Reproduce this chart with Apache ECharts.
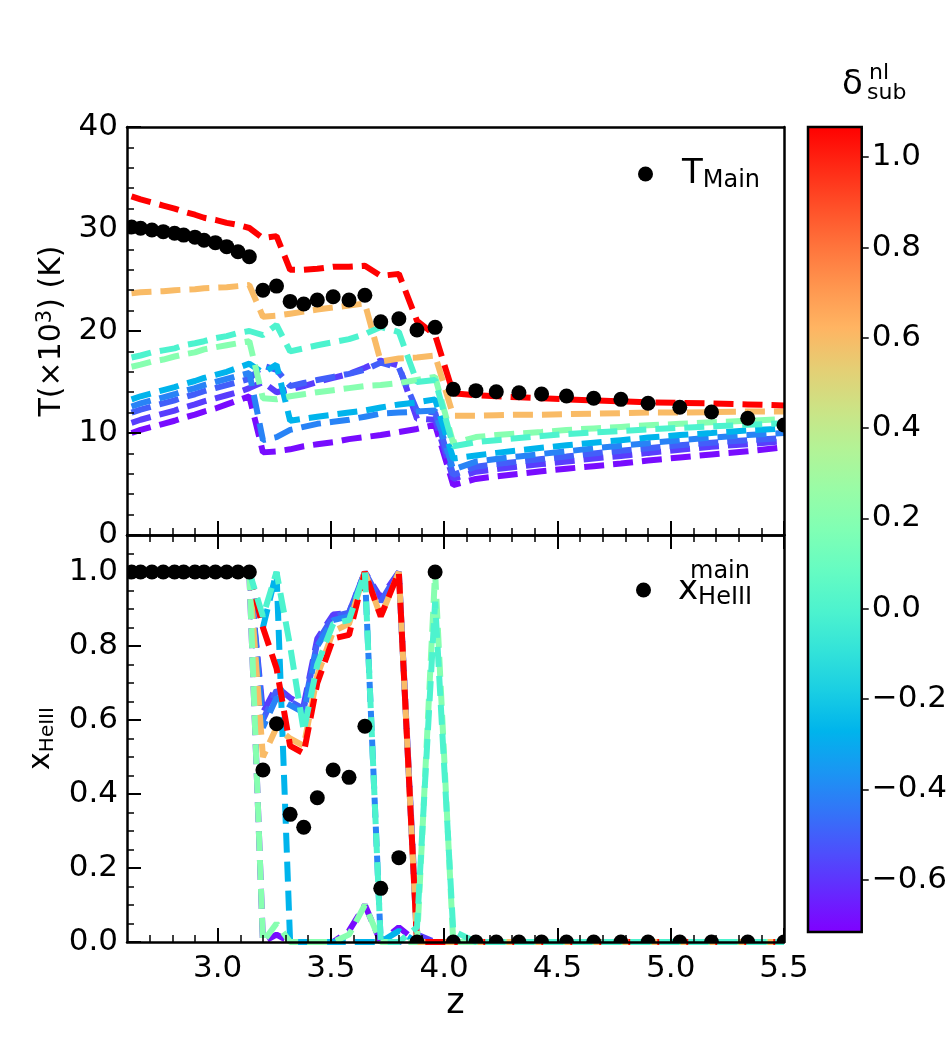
<!DOCTYPE html>
<html><head><meta charset="utf-8">
<script src="https://cdn.jsdelivr.net/npm/echarts@6/dist/echarts.min.js"></script>
<style>html,body{margin:0;padding:0;background:#fff}#c{width:950px;height:1060px}</style>
</head><body><div id="c"></div>
<script>
// ---- data ----
const z = [2.62,2.66,2.71,2.76,2.81,2.85,2.90,2.94,2.99,3.04,3.09,3.14,3.20,3.26,3.32,3.38,3.44,3.51,3.58,3.65,3.72,3.80,3.88,3.96,4.04,4.14,4.23,4.33,4.43,4.54,4.66,4.78,4.90,5.04,5.18,5.34,5.50];
const tMain = [30.2,30.07,29.9,29.74,29.58,29.4,29.2,28.9,28.66,28.27,27.77,27.28,24.0,24.4,22.9,22.65,23.04,23.36,23.04,23.5,20.9,21.2,20.1,20.36,14.28,14.15,14.05,13.95,13.82,13.63,13.4,13.3,12.91,12.52,12.06,11.44,10.78];
const xMain = [1,1,1,1,1,1,1,1,1,1,1,1,0.465,0.59,0.345,0.31,0.39,0.465,0.445,0.583,0.145,0.228,0.0,1.0,0,0,0,0,0,0,0,0,0,0,0,0,0];

const deltas = [1.07, 0.60, 0.20, 0.00, -0.27, -0.41, -0.50, -0.58, -0.69];

const tempRed = [33.2,32.9,32.6,32.3,32.0,31.7,31.4,31.1,30.9,30.6,30.4,30.1,29.1,29.3,26.0,26.0,26.1,26.3,26.3,26.4,25.4,25.6,21.0,19.6,13.9,13.7,13.6,13.5,13.4,13.3,13.2,13.1,13.0,12.95,12.9,12.8,12.7];
const tempOrange = [23.7,23.8,23.85,23.9,24.0,24.05,24.1,24.2,24.25,24.3,24.4,24.5,21.4,21.5,21.7,21.9,22.1,22.3,22.5,22.7,17.0,17.3,17.4,17.6,11.7,11.7,11.75,11.8,11.8,11.85,11.9,11.95,12.0,12.0,12.05,12.1,12.1];
const tempLightGreen = [16.5,16.7,17.0,17.2,17.5,17.7,17.9,18.2,18.4,18.6,18.8,19.0,13.4,13.3,13.6,13.8,14.0,14.2,14.4,14.6,14.7,14.9,15.2,15.5,9.0,9.6,9.8,9.95,10.1,10.3,10.45,10.6,10.75,10.9,11.05,11.2,11.35];
const tempAqua = [17.4,17.6,17.9,18.1,18.3,18.6,18.8,19.0,19.3,19.5,19.8,20.0,19.6,20.6,18.0,18.3,18.6,18.9,19.2,19.7,20.4,19.9,15.0,15.2,8.7,9.1,9.3,9.5,9.7,9.9,10.05,10.2,10.35,10.5,10.65,10.8,10.95];
const tempCyan = [13.3,13.6,13.9,14.2,14.5,14.8,15.1,15.4,15.7,16.0,16.4,16.8,15.9,16.7,11.2,11.4,11.6,11.8,12.0,12.2,12.5,12.8,13.0,13.3,7.5,7.8,8.05,8.3,8.55,8.8,9.05,9.3,9.55,9.8,10.0,10.25,10.45];
const tempBlue = [12.6,12.9,13.2,13.5,13.8,14.1,14.4,14.7,15.0,15.3,15.6,15.9,9.3,9.6,10.3,10.6,10.9,11.1,11.3,11.6,11.9,12.0,12.1,12.2,6.4,7.2,7.45,7.7,7.95,8.2,8.5,8.75,9.0,9.3,9.55,9.8,10.0];
const tempBlue2 = [12.0,12.3,12.6,12.9,13.2,13.5,13.8,14.1,14.4,14.7,15.0,15.3,16.6,16.2,14.6,14.9,15.2,15.5,15.8,16.2,16.9,16.4,12.2,12.0,5.9,6.7,6.95,7.2,7.45,7.7,8.0,8.25,8.5,8.8,9.05,9.3,9.5];
const tempIndigo = [11.0,11.3,11.6,11.9,12.2,12.5,12.8,13.1,13.4,13.7,14.0,14.4,15.0,14.0,14.3,14.6,15.0,15.4,15.8,16.4,17.1,16.6,11.4,11.3,5.5,6.2,6.45,6.7,6.95,7.2,7.5,7.75,8.05,8.35,8.65,8.9,9.2];
const tempPurple = [10.0,10.3,10.6,10.9,11.2,11.5,11.8,12.1,12.4,12.8,13.2,13.6,8.1,8.2,8.4,8.7,8.9,9.1,9.4,9.6,9.8,10.1,10.4,10.8,4.9,5.5,5.75,6.0,6.25,6.5,6.75,7.0,7.3,7.6,7.9,8.2,8.6];

const xRed = [1,1,1,1,1,1,1,1,1,1,1,1.0,0.85,0.74,0.53,0.51,0.70,0.82,0.83,1.0,0.88,1.0,0.0,0.0,0.0,0,0,0,0,0,0,0,0,0,0,0,0];
const xOrange = [1,1,1,1,1,1,1,1,1,1,1,1.0,0.50,0.58,0.55,0.53,0.72,0.84,0.86,1.0,0.88,1.0,0.0,0.0,0.0,0,0,0,0,0,0,0,0,0,0,0,0];
const xLightGreen = [1,1,1,1,1,1,1,1,1,1,1,1.0,0.0,0.05,0.0,0.0,0.0,0.0,0.02,0.1,0.0,0.0,0.0,1.0,0.0,0,0,0,0,0,0,0,0,0,0,0,0];
const xAqua = [1,1,1,1,1,1,1,1,1,1,1,1.0,0.88,1.0,0.80,0.57,0.75,0.86,0.87,1.0,0.0,0.0,0.04,0.92,0.03,0,0,0,0,0,0,0,0,0,0,0,0];
const xCyan = [1,1,1,1,1,1,1,1,1,1,1,1.0,0.85,1.0,0.0,0.0,0.0,0.0,0.0,0.0,0.0,0.03,0.0,0.0,0.0,0,0,0,0,0,0,0,0,0,0,0,0];
const xBlue = [1,1,1,1,1,1,1,1,1,1,1,1.0,0.58,0.66,0.64,0.62,0.80,0.87,0.88,1.0,0.0,0.0,0.0,0.0,0.0,0,0,0,0,0,0,0,0,0,0,0,0];
const xBlue2 = [1,1,1,1,1,1,1,1,1,1,1,1.0,0.60,0.68,0.65,0.63,0.81,0.88,0.89,1.0,0.92,1.0,0.0,0.0,0.0,0,0,0,0,0,0,0,0,0,0,0,0];
const xIndigo = [1,1,1,1,1,1,1,1,1,1,1,1.0,0.62,0.69,0.66,0.64,0.82,0.885,0.89,1.0,0.93,1.0,0.02,0.0,0.0,0,0,0,0,0,0,0,0,0,0,0,0];
const xPurple = [1,1,1,1,1,1,1,1,1,1,1,1.0,0.0,0.02,0.0,0.0,0.0,0.0,0.03,0.1,0.0,0.04,0.0,0.0,0.0,0,0,0,0,0,0,0,0,0,0,0,0];

// ticks
const zMajor = [3.0,3.5,4.0,4.5,5.0,5.5];
const zMinor = [2.7,2.8,2.9,3.1,3.2,3.3,3.4,3.6,3.7,3.8,3.9,4.1,4.2,4.3,4.4,4.6,4.7,4.8,4.9,5.1,5.2,5.3,5.4];
const tMajor = [0,10,20,30,40];
const tMinor = [2,4,6,8,12,14,16,18,22,24,26,28,32,34,36,38];
const hMajor = [0,0.2,0.4,0.6,0.8,1.0];
const hMinor = [0.05,0.1,0.15,0.25,0.3,0.35,0.45,0.5,0.55,0.65,0.7,0.75,0.85,0.9,0.95,1.05];
const cbTicks = [-0.6,-0.4,-0.2,0.0,0.2,0.4,0.6,0.8,1.0];
const cbMin = -0.716, cbMax = 1.067;

// ---- drawing ----
const FF = '"DejaVu Sans"';
function rainbow(t){
  t = Math.min(1, Math.max(0, t));
  const r = Math.min(1, Math.abs(2*t - 0.5)), g = Math.sin(Math.PI*t), b = Math.cos(Math.PI*t/2);
  return 'rgb(' + Math.round(r*255) + ',' + Math.round(g*255) + ',' + Math.round(b*255) + ')';
}
const colorOf = d => rainbow((d - cbMin)/(cbMax - cbMin));
const stops = [];
for (let i = 0; i <= 20; i++) stops.push({offset: i/20, color: rainbow(1 - i/20)});

const frame = {show: true, onZero: false, lineStyle: {color: '#000', width: 2.5}};
const noLine = {show: false, onZero: false};
const majT = v => ({show: true, inside: true, length: 14, lineStyle: {color: '#000', width: 2}, customValues: v});
const minT = v => ({show: true, inside: true, length: 7, lineStyle: {color: '#000', width: 1.5}, customValues: v});
const off = {show: false};
function axis(o){
  return Object.assign({type: 'value', axisLine: noLine, axisTick: off, axisLabel: off, splitLine: off, z: 10}, o);
}
const lbl = (vals, fmt, margin) => ({show: true, customValues: vals, formatter: fmt, fontSize: 31, color: '#000', fontFamily: FF, margin: margin});
const f1 = v => (v < 0 ? '\u2212' : '') + Math.abs(v).toFixed(1);

const topSets = [tempPurple, tempIndigo, tempBlue2, tempBlue, tempCyan, tempOrange, tempRed, tempLightGreen, tempAqua];
const botSets = [xPurple, xIndigo, xBlue2, xBlue, xCyan, xOrange, xRed, xLightGreen, xAqua];
const setDelta = [deltas[8], deltas[7], deltas[6], deltas[5], deltas[4], deltas[1], deltas[0], deltas[2], deltas[3]];

const series = [];
topSets.forEach((arr, k) => {
  const c = colorOf(setDelta[k]);
  series.push({type: 'line', xAxisIndex: 0, yAxisIndex: 0, data: z.map((v, i) => [v, arr[i]]),
    symbol: 'none', silent: true, z: 2 + k*0.01, lineStyle: {color: c, width: 6, type: [20, 9]}, itemStyle: {color: c}});
});
botSets.forEach((arr, k) => {
  const c = colorOf(setDelta[k]);
  series.push({type: 'line', xAxisIndex: 3, yAxisIndex: 3, data: z.map((v, i) => [v, arr[i]]),
    symbol: 'none', silent: true, z: 2 + k*0.01, lineStyle: {color: c, width: 6, type: [20, 9]}, itemStyle: {color: c}});
});
const dotRender = (params, api) => {
  const p = api.coord([api.value(0), api.value(1)]);
  return {type: 'circle', shape: {cx: p[0], cy: p[1], r: 7.5}, style: {fill: '#000'}};
};
series.push({type: 'custom', name: 'TMain', xAxisIndex: 0, yAxisIndex: 0, clip: true, z: 5,
  data: z.map((v, i) => [v, tMain[i]]), encode: {x: 0, y: 1}, renderItem: dotRender, itemStyle: {color: '#000'}});
series.push({type: 'custom', name: 'xMain', xAxisIndex: 3, yAxisIndex: 3, clip: true, z: 5,
  data: z.map((v, i) => [v, xMain[i]]), encode: {x: 0, y: 1}, renderItem: dotRender, itemStyle: {color: '#000'}});

const option = {
  animation: false,
  backgroundColor: '#fff',
  textStyle: {fontFamily: FF},
  grid: [
    {left: 127, top: 127, width: 657, height: 408},
    {left: 127, top: 535, width: 657, height: 407},
    {left: 808, top: 127, width: 56, height: 805, show: true, borderColor: '#000', borderWidth: 2.5,
     backgroundColor: {type: 'linear', x: 0, y: 0, x2: 0, y2: 1, colorStops: stops}}
  ],
  xAxis: [
    axis({gridIndex: 0, position: 'bottom', min: 2.6, max: 5.5, axisLine: frame, axisTick: majT(zMajor)}),
    axis({gridIndex: 0, position: 'bottom', min: 2.6, max: 5.5, axisTick: minT(zMinor)}),
    axis({gridIndex: 0, position: 'top', min: 2.6, max: 5.5, axisLine: frame}),
    axis({gridIndex: 1, position: 'bottom', min: 2.6, max: 5.5, axisLine: frame, axisTick: majT(zMajor),
      axisLabel: lbl(zMajor, f1, 11), name: 'z', nameLocation: 'middle', nameGap: 44,
      nameTextStyle: {fontSize: 35, color: '#000', fontFamily: FF}}),
    axis({gridIndex: 1, position: 'bottom', min: 2.6, max: 5.5, axisTick: minT(zMinor)}),
    axis({gridIndex: 1, position: 'top', min: 2.6, max: 5.5, axisLine: frame, axisTick: majT(zMajor)}),
    axis({gridIndex: 1, position: 'top', min: 2.6, max: 5.5, axisTick: minT(zMinor)}),
    axis({gridIndex: 2, position: 'bottom', min: 0, max: 1, show: false})
  ],
  yAxis: [
    axis({gridIndex: 0, position: 'left', min: 0, max: 40, axisLine: frame, axisTick: majT(tMajor),
      axisLabel: lbl(tMajor, v => String(v), 9),
      name: '{a|T(\u00d710}{s|3}{a|) (K)}', nameLocation: 'middle', nameGap: 56,
      nameTextStyle: {color: '#000', rich: {a: {fontSize: 30, fontFamily: FF, color: '#000'}, s: {fontSize: 21, fontFamily: FF, color: '#000', padding: [0, 0, 14, 0]}}}}),
    axis({gridIndex: 0, position: 'left', min: 0, max: 40, axisTick: minT(tMinor)}),
    axis({gridIndex: 0, position: 'right', min: 0, max: 40, axisLine: frame}),
    axis({gridIndex: 1, position: 'left', min: 0, max: 1.1, axisLine: frame, axisTick: majT(hMajor),
      axisLabel: lbl(hMajor, f1, 9),
      name: '{a|x}{s|HeIII}', nameLocation: 'middle', nameGap: 64,
      nameTextStyle: {color: '#000', rich: {a: {fontSize: 30, fontFamily: FF, color: '#000'}, s: {fontSize: 20, fontFamily: FF, color: '#000', padding: [14, 0, 0, 0]}}}}),
    axis({gridIndex: 1, position: 'left', min: 0, max: 1.1, axisTick: minT(hMinor)}),
    axis({gridIndex: 1, position: 'right', min: 0, max: 1.1, axisLine: frame}),
    axis({gridIndex: 2, position: 'right', min: cbMin, max: cbMax,
      axisTick: {show: true, inside: false, length: 7, lineStyle: {color: '#000', width: 1.5}, customValues: cbTicks},
      axisLabel: lbl(cbTicks, f1, 10)})
  ],
  legend: [
    {data: [{name: 'TMain', icon: 'circle', itemStyle: {color: '#000'}}], left: 633, top: 152, itemWidth: 15, itemHeight: 15,
     selectedMode: false, formatter: () => '{t|T}{s|Main}',
     textStyle: {rich: {t: {fontSize: 34, fontFamily: FF, color: '#000', padding: [0, 0, 0, 24]}, s: {fontSize: 24, fontFamily: FF, color: '#000', padding: [14, 0, 0, 0]}}}},
    {data: [{name: 'xMain', icon: 'circle', itemStyle: {color: '#000'}}], left: 631, top: 568, itemWidth: 15, itemHeight: 15,
     selectedMode: false, formatter: () => '{t|x}{s|HeIII}',
     textStyle: {rich: {t: {fontSize: 34, fontFamily: FF, color: '#000', padding: [0, 0, 0, 22]}, s: {fontSize: 24, fontFamily: FF, color: '#000', padding: [16, 0, 0, 0]}}}}
  ],
  graphic: [
    {type: 'text', left: 690, top: 560, z: 20, style: {text: 'main', font: '24px ' + FF, fill: '#000'}},
    {type: 'text', left: 842, top: 68, z: 20, style: {text: '\u03b4', font: '34px ' + FF, fill: '#000'}},
    {type: 'text', left: 869, top: 62, z: 20, style: {text: 'nl', font: '22px ' + FF, fill: '#000'}},
    {type: 'text', left: 867, top: 82, z: 20, style: {text: 'sub', font: '22px ' + FF, fill: '#000'}}
  ],
  series: series
};
const chart = echarts.init(document.getElementById('c'), null, {renderer: 'canvas'});
chart.setOption(option);
</script></body></html>
